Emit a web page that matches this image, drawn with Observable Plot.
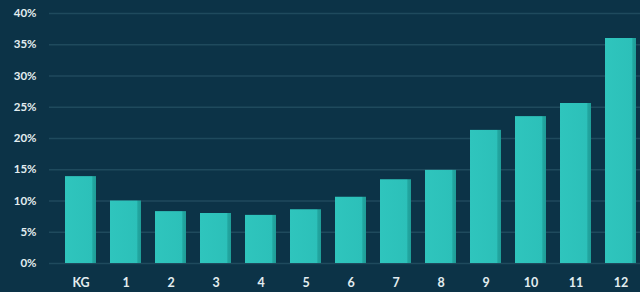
<!DOCTYPE html>
<html>
<head>
<meta charset="utf-8">
<script src="https://cdn.jsdelivr.net/npm/d3@7"></script>
<script src="https://cdn.jsdelivr.net/npm/@observablehq/plot@0.6"></script>
<style>
  html, body { margin: 0; padding: 0; background: #0c3347; overflow: hidden; }
  #chart svg { display: block; }
</style>
</head>
<body>
<div id="chart"></div>
<script>
const grades = ["KG", "1", "2", "3", "4", "5", "6", "7", "8", "9", "10", "11", "12"];
const shares = [0.139, 0.100, 0.083, 0.080, 0.077, 0.086, 0.106, 0.134, 0.149, 0.213, 0.235, 0.256, 0.360];
const yTicks = [0, 0.05, 0.10, 0.15, 0.20, 0.25, 0.30, 0.35, 0.40];

const data = grades.map((g, i) => ({grade: g, share: shares[i]}));

const chart = Plot.plot({
  width: 640,
  height: 292,
  marginTop: 13,
  marginBottom: 29,
  marginLeft: 49,
  marginRight: 0,
  style: {background: "#0c3347", color: "#e3edf0", fontFamily: "Lato, sans-serif", fontWeight: "bold", fontSize: "12px"},
  x: {domain: grades, range: [48, 653.5], padding: 0.32, label: null},
  y: {domain: [0, 0.40], range: [263, 13], label: null},
  marks: [
    Plot.ruleY(yTicks, {stroke: "#1f4a5d", strokeWidth: 1.5}),
    Plot.axisY({ticks: yTicks, tickFormat: d3.format(".0%"), tickSize: 0, tickPadding: 13, fontSize: 11.5, fill: "#e3edf0", label: null}),
    Plot.axisX({tickSize: 0, tickPadding: 15, fontSize: 12.5, fill: "#e3edf0", label: null}),
    Plot.barY(data, {x: "grade", y: "share", fill: "url(#barGrad)"})
  ]
});

const defs = d3.select(chart).insert("defs", ":first-child");
const grad = defs.append("linearGradient").attr("id", "barGrad").attr("x1", "0").attr("x2", "1").attr("y1", "0").attr("y2", "0");
grad.append("stop").attr("offset", "0%").attr("stop-color", "#2fc5bd");
grad.append("stop").attr("offset", "88%").attr("stop-color", "#2cc0b9");
grad.append("stop").attr("offset", "89%").attr("stop-color", "#22a7a1");
grad.append("stop").attr("offset", "100%").attr("stop-color", "#1f9d98");

document.getElementById("chart").appendChild(chart);
</script>
</body>
</html>
